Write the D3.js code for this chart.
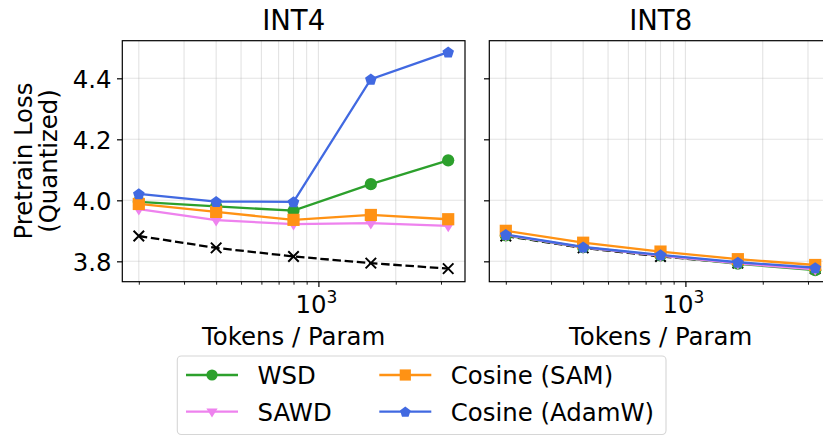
<!DOCTYPE html>
<html><head><meta charset="utf-8">
<script src="https://cdn.jsdelivr.net/npm/d3@7"></script>
<style>body{margin:0;background:#fff}svg{display:block;font-family:"DejaVu Sans",sans-serif}</style>
</head><body>
<svg id="chart" width="823" height="436"></svg>
<script>
const tokens = [200, 400, 800, 1600, 3200];
const panels = ["INT4", "INT8"];
const yTicks = [3.8, 4.0, 4.2, 4.4];
const seriesNames = ["WSD", "SAWD", "Cosine (SAM)", "Cosine (AdamW)"];
const seriesColors = ["#2ca02c", "#ee82ee", "#ff9214", "#4169e1"];
const seriesMarkers = ["circle", "triangle", "square", "pentagon"];
// INT4 values
const int4Baseline = [3.883, 3.844, 3.816, 3.794, 3.776];
const int4WSD = [3.995, 3.980, 3.966, 4.053, 4.131];
const int4SAWD = [3.971, 3.935, 3.922, 3.925, 3.916];
const int4SAM = [3.988, 3.962, 3.936, 3.952, 3.938];
const int4AdamW = [4.021, 3.996, 3.995, 4.397, 4.486];
// INT8 values
const int8Baseline = [3.883, 3.844, 3.816, 3.794, 3.776];
const int8WSD = [3.885, 3.846, 3.819, 3.792, 3.771];
const int8SAWD = [3.886, 3.846, 3.819, 3.793, 3.774];
const int8SAM = [3.900, 3.861, 3.832, 3.807, 3.788];
const int8AdamW = [3.888, 3.847, 3.821, 3.797, 3.779];

const panelData = [
  {title: panels[0], baseline: int4Baseline, series: [int4WSD, int4SAWD, int4SAM, int4AdamW], x0: 122.3, showY: true},
  {title: panels[1], baseline: int8Baseline, series: [int8WSD, int8SAWD, int8SAM, int8AdamW], x0: 489.3, showY: false}
];

const FS = 24.4, LW = 2.3, MS = 12.2;
const svg = d3.select("#chart");
const W = 342.7, plotTop = 40.7, plotBottom = 281.7;
const y = d3.scaleLinear().domain([3.7332, 4.5233]).range([plotBottom, plotTop]);

function markerPath(type, size) {
  const r = size / 2;
  if (type === "circle") return d3.symbol(d3.symbolCircle, Math.PI * r * r)();
  if (type === "square") return `M${-r},${-r}H${r}V${r}H${-r}Z`;
  if (type === "triangle") { const h = r; return `M${-h},${-h*0.55}L${h},${-h*0.55}L0,${h*1.05}Z`; }
  if (type === "pentagon") {
    const pts = d3.range(5).map(i => { const a = -Math.PI/2 + i * 2*Math.PI/5; return [r*1.0*Math.cos(a), r*1.0*Math.sin(a) + 0.5]; });
    return "M" + pts.map(p => p.join(",")).join("L") + "Z";
  }
  if (type === "x") return `M${-r},${-r}L${r},${r}M${-r},${r}L${r},${-r}`;
}

panelData.forEach(p => {
  const x = d3.scaleLog().domain([172.5, 3720]).range([p.x0, p.x0 + W]);
  const g = svg.append("g");
  const minor = [200,300,400,500,600,700,800,900,2000,3000];
  const allX = minor.concat([1000]);
  g.selectAll(".vg").data(allX).join("line")
    .attr("x1", d => x(d)).attr("x2", d => x(d)).attr("y1", plotTop).attr("y2", plotBottom)
    .attr("stroke", "#b0b0b0").attr("stroke-opacity", 0.35).attr("stroke-width", 1.1);
  g.selectAll(".hg").data(yTicks).join("line")
    .attr("x1", p.x0).attr("x2", p.x0 + W).attr("y1", d => y(d)).attr("y2", d => y(d))
    .attr("stroke", "#b0b0b0").attr("stroke-opacity", 0.35).attr("stroke-width", 1.1);

  const xAxis = d3.axisBottom(x).tickValues([1000]).tickFormat(() => "").tickSize(5.3).tickSizeOuter(0);
  const gx = g.append("g").attr("transform", `translate(0,${plotBottom})`).call(xAxis);
  gx.select(".domain").remove();
  gx.selectAll("line").attr("stroke", "#000").attr("stroke-width", 1.2);
  const xMinor = d3.axisBottom(x).tickValues(minor).tickFormat(() => "").tickSize(3.0).tickSizeOuter(0);
  const gxm = g.append("g").attr("transform", `translate(0,${plotBottom})`).call(xMinor);
  gxm.select(".domain").remove();
  gxm.selectAll("line").attr("stroke", "#000").attr("stroke-width", 0.9);
  g.append("text").attr("x", x(1000) - 2).attr("y", 313).attr("text-anchor", "middle")
    .attr("font-size", FS).attr("fill", "#000")
    .text("10").append("tspan").attr("font-size", 17).attr("dy", -10.5).text("3");
  g.append("text").attr("x", p.x0 + W/2).attr("y", 345).attr("text-anchor", "middle")
    .attr("font-size", FS).attr("fill", "#000").text("Tokens / Param");

  const yAxis = d3.axisLeft(y).tickValues(yTicks).tickSize(5.3)
    .tickFormat(d => p.showY ? d3.format(".1f")(d) : "").tickPadding(5.5);
  const gy = g.append("g").attr("transform", `translate(${p.x0},0)`).call(yAxis);
  gy.select(".domain").remove();
  gy.selectAll("line").attr("stroke", "#000").attr("stroke-width", 1.2);
  gy.selectAll("text").attr("font-size", FS).attr("fill", "#000").attr("font-family", "DejaVu Sans").attr("dy", "0.36em");

  g.append("rect").attr("x", p.x0).attr("y", plotTop).attr("width", W).attr("height", plotBottom - plotTop)
    .attr("fill", "none").attr("stroke", "#000").attr("stroke-width", 1.2);

  g.append("text").attr("x", p.x0 + W/2).attr("y", 30).attr("text-anchor", "middle")
    .attr("font-size", 27.5).attr("fill", "#000").text(p.title);

  const line = d3.line().x((d, i) => x(tokens[i])).y(d => y(d));
  g.append("path").attr("d", line(p.baseline)).attr("fill", "none").attr("stroke", "#000")
    .attr("stroke-width", LW).attr("stroke-dasharray", "8.5,3.7");
  g.selectAll(".bx").data(p.baseline).join("path")
    .attr("transform", (d, i) => `translate(${x(tokens[i])},${y(d)})`)
    .attr("d", markerPath("x", 10.5)).attr("stroke", "#000").attr("stroke-width", 2).attr("fill", "none");

  p.series.forEach((vals, si) => {
    g.append("path").attr("d", line(vals)).attr("fill", "none").attr("stroke", seriesColors[si])
      .attr("stroke-width", LW);
    g.selectAll(".m" + si).data(vals).join("path")
      .attr("transform", (d, i) => `translate(${x(tokens[i])},${y(d)})`)
      .attr("d", markerPath(seriesMarkers[si], MS)).attr("fill", seriesColors[si]);
  });
});

const yl = svg.append("text").attr("transform", `translate(0,161) rotate(-90)`)
  .attr("text-anchor", "middle").attr("font-size", FS).attr("fill", "#000");
yl.append("tspan").attr("x", 0).attr("y", 32).text("Pretrain Loss");
yl.append("tspan").attr("x", 0).attr("y", 57).text("(Quantized)");

const lg = svg.append("g");
lg.append("rect").attr("x", 177.3).attr("y", 356).attr("width", 488.7).attr("height", 78.5)
  .attr("rx", 4).attr("fill", "#fff").attr("stroke", "#d6d6d6").attr("stroke-width", 1.1);
const legendPos = [[186, 375], [186, 411.7], [379.3, 375], [379.3, 411.7]];
seriesNames.forEach((name, i) => {
  const [lx, ly] = legendPos[i];
  lg.append("line").attr("x1", lx).attr("x2", lx + 52).attr("y1", ly).attr("y2", ly)
    .attr("stroke", seriesColors[i]).attr("stroke-width", LW);
  lg.append("path").attr("transform", `translate(${lx + 26},${ly})`)
    .attr("d", markerPath(seriesMarkers[i], MS - 1)).attr("fill", seriesColors[i]);
  lg.append("text").attr("x", lx + 71.5).attr("y", ly + 8.8).attr("font-size", FS).attr("fill", "#000").text(name);
});
</script>
</body></html>
